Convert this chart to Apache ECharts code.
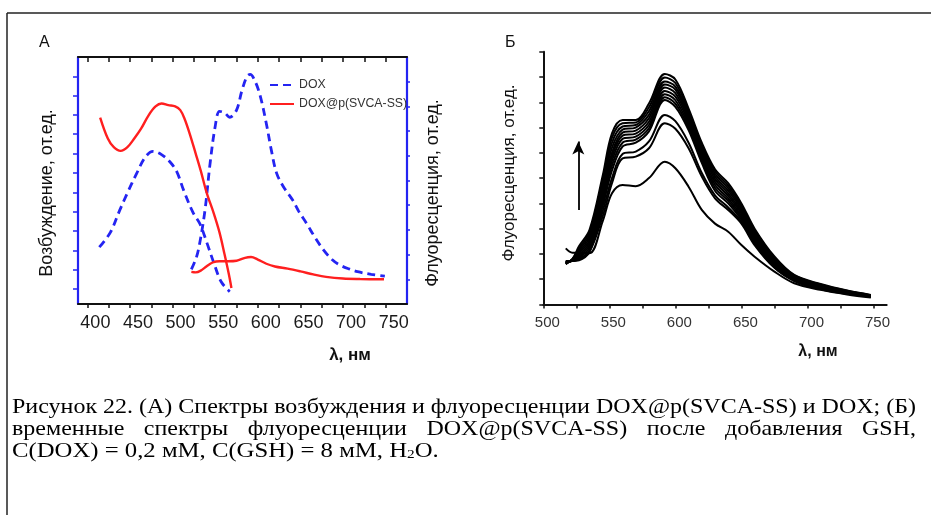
<!DOCTYPE html>
<html>
<head>
<meta charset="utf-8">
<script src="https://cdn.jsdelivr.net/npm/echarts@6/dist/echarts.min.js"></script>
<style>
  html, body { margin: 0; padding: 0; background: #fff; }
  #chart { width: 931px; height: 515px; }
</style>
</head>
<body>
<div id="chart"></div>
<script>
// ---- panel A: excitation (left part) and fluorescence (right part), [nm, rel. units]
const doxExcitation = [[414, 23], [427, 29], [438, 38], [447, 45], [458, 53], [468, 59.5], [477, 61.8],
  [487, 60.5], [497, 57.5], [505, 53.5], [513, 46], [524, 37], [532, 32.5], [540, 25], [548, 17],
  [557, 9], [567, 5]];
const doxEmission = [[522, 14], [528, 19], [532, 25], [538, 38], [544, 57], [550, 72], [555, 78],
  [561, 77.4], [567, 75.6], [575, 78.5], [581, 86], [587, 92], [591, 93], [597, 90], [603, 84],
  [610, 73], [616, 62], [622, 53], [630, 47.5], [641, 42], [648, 37.5], [657, 32.7], [667, 27],
  [677, 21.9], [687, 18], [696, 15.8], [707, 14.2], [717, 13.1], [733, 12], [749, 11.3]];
const doxpExcitation = [[415, 75.5], [424, 67], [431, 63.5], [439, 62], [447, 63.5], [455, 67],
  [463, 71], [472, 76.5], [480, 80], [487, 81.2], [495, 80.5], [503, 80], [509, 78.5], [514, 75],
  [520, 69], [527, 61], [533, 54], [540, 45], [548, 37], [555, 29], [561, 20], [566, 12], [569, 6.5]];
const doxpEmission = [[522, 13], [527, 12.8], [533, 13.5], [540, 15.3], [547, 16.8], [555, 17.3],
  [565, 17.3], [575, 17.5], [585, 18.7], [592, 19], [600, 18], [610, 16.3], [620, 15.2], [635, 14.3],
  [650, 13.2], [665, 12], [680, 11], [700, 10.3], [720, 10.1], [748, 10]];
const tickLabelsA = [400, 450, 500, 550, 600, 650, 700, 750];

// ---- panel Б: fluorescence spectra recorded over time after GSH addition
const wavelengthsB = [517, 522, 527, 535, 545, 552, 560, 570, 580, 592, 600, 610, 620, 630, 640, 650, 660, 675, 690, 710, 730, 748];
const spec01 = [2.22, 2.05, 2.05, 2.03, 3.3, 4.4, 4.73, 4.68, 5.0, 5.65, 5.39, 4.66, 3.74, 3.2, 2.88, 2.35, 1.89, 1.3, 0.84, 0.58, 0.4, 0.28];
const spec02 = [1.72, 1.72, 1.75, 2.08, 3.5, 4.8, 5.78, 5.85, 6.18, 7.17, 6.95, 6.18, 5.06, 4.2, 3.74, 3.2, 2.35, 1.45, 0.93, 0.6, 0.42, 0.31];
const spec03 = [1.7, 1.72, 1.78, 2.1, 3.7, 5.0, 5.95, 6.05, 6.45, 7.5, 7.25, 6.4, 5.2, 4.32, 3.84, 3.27, 2.4, 1.47, 0.95, 0.62, 0.43, 0.31];
const spec04 = [1.68, 1.72, 1.8, 2.15, 3.9, 5.3, 6.25, 6.4, 6.85, 8.09, 7.82, 6.9, 5.6, 4.5, 4.0, 3.35, 2.45, 1.5, 0.97, 0.64, 0.44, 0.32];
const spec05 = [1.67, 1.73, 1.85, 2.25, 4.05, 5.5, 6.4, 6.52, 6.97, 8.2, 7.95, 7.0, 5.7, 4.62, 4.1, 3.43, 2.52, 1.55, 1.0, 0.66, 0.46, 0.33];
const spec06 = [1.66, 1.74, 1.9, 2.35, 4.2, 5.68, 6.55, 6.64, 7.1, 8.32, 8.08, 7.1, 5.8, 4.74, 4.2, 3.51, 2.59, 1.6, 1.03, 0.68, 0.47, 0.34];
const spec07 = [1.65, 1.75, 1.95, 2.45, 4.35, 5.85, 6.68, 6.76, 7.23, 8.45, 8.22, 7.21, 5.9, 4.85, 4.3, 3.6, 2.66, 1.65, 1.06, 0.7, 0.48, 0.35];
const spec08 = [1.64, 1.76, 2.02, 2.55, 4.5, 6.0, 6.8, 6.88, 7.37, 8.58, 8.36, 7.32, 6.0, 4.96, 4.4, 3.68, 2.73, 1.7, 1.09, 0.72, 0.5, 0.35];
const spec09 = [1.63, 1.77, 2.08, 2.65, 4.65, 6.2, 6.92, 7.0, 7.5, 8.7, 8.5, 7.43, 6.1, 5.07, 4.5, 3.76, 2.8, 1.75, 1.11, 0.74, 0.51, 0.36];
const spec10 = [1.62, 1.78, 2.15, 2.75, 4.8, 6.4, 7.04, 7.1, 7.65, 8.82, 8.62, 7.54, 6.2, 5.17, 4.6, 3.84, 2.87, 1.8, 1.13, 0.76, 0.52, 0.36];
const spec11 = [1.61, 1.79, 2.22, 2.85, 4.95, 6.6, 7.17, 7.2, 7.8, 8.98, 8.76, 7.65, 6.3, 5.27, 4.7, 3.92, 2.94, 1.85, 1.15, 0.79, 0.54, 0.37];
const spec12 = [1.6, 1.8, 2.3, 2.95, 5.1, 6.77, 7.3, 7.3, 7.95, 9.12, 8.9, 7.75, 6.4, 5.35, 4.8, 4.0, 3.0, 1.9, 1.17, 0.81, 0.55, 0.38];
const spectraB = [spec01, spec02, spec03, spec04, spec05, spec06, spec07, spec08, spec09, spec10, spec11, spec12];
const arrowB = [[526.5, 3.74], [526.5, 6.45]];
const tickLabelsB = [500, 550, 600, 650, 700, 750];

const caption1 = 'Рисунок 22. (А) Спектры возбуждения и флуоресценции DOX@p(SVCA-SS) и DOX; (Б)';
const caption2 = 'временные спектры флуоресценции DOX@p(SVCA-SS) после добавления GSH,';
const caption3 = 'C(DOX) = 0,2 мМ, C(GSH) = 8 мМ, H{s|2}O.';

const BLUE = '#2424f2';
const RED = '#ff1f1f';
const SANS = '"Liberation Sans", Arial, sans-serif';
const SERIF = '"Liberation Serif", "Times New Roman", serif';

function steps(from, to, step) {
  const out = [];
  for (let v = from; v <= to; v += step) out.push(v);
  return out;
}

// caption: text in the picture is horizontally squeezed and justified
const ctx = document.createElement('canvas').getContext('2d');
const capFont = '21px ' + SERIF;
ctx.font = capFont;
const capLeft = 12, capRight = 916;
const squeeze = (capRight - capLeft) / ctx.measureText(caption1).width;

const captionEls = [];
captionEls.push({
  type: 'text', x: capLeft, y: 407, scaleX: squeeze,
  style: { text: caption1, font: capFont, fill: '#000', align: 'left', verticalAlign: 'middle' }
});
const words2 = caption2.split(' ');
const widths2 = words2.map(w => ctx.measureText(w).width * squeeze);
const gap2 = (capRight - capLeft - widths2.reduce((a, b) => a + b, 0)) / (words2.length - 1);
let wx = capLeft;
words2.forEach((w, i) => {
  captionEls.push({
    type: 'text', x: wx, y: 429, scaleX: squeeze,
    style: { text: w, font: capFont, fill: '#000', align: 'left', verticalAlign: 'middle' }
  });
  wx += widths2[i] + gap2;
});
captionEls.push({
  type: 'text', x: capLeft, y: 451, scaleX: squeeze * 1.03,
  style: {
    text: caption3, font: capFont, fill: '#000', align: 'left', verticalAlign: 'middle',
    rich: { s: { fontSize: 13, fontFamily: SERIF, verticalAlign: 'bottom', padding: [6, 0, 0, 0] } }
  }
});

const chart = echarts.init(document.getElementById('chart'), null, { renderer: 'canvas' });

const lineA = (name, data, color, dashed, yIdx) => ({
  name: name,
  type: 'line',
  xAxisIndex: 0,
  yAxisIndex: yIdx,
  data: data,
  smooth: 0.35,
  symbol: 'none',
  silent: true,
  itemStyle: { color: color },
  lineStyle: { color: color, width: dashed ? 2.8 : 2.4, type: dashed ? [8, 5] : 'solid' }
});

const seriesB = spectraB.map((vals, i) => {
  const s = {
    name: 'B' + (i + 1),
    type: 'line',
    xAxisIndex: 2,
    yAxisIndex: 2,
    data: wavelengthsB.map((w, k) => [w, vals[k]]),
    smooth: 0.35,
    symbol: 'none',
    silent: true,
    lineStyle: { color: '#000', width: 2 },
    itemStyle: { color: '#000' }
  };
  if (i === spectraB.length - 1) {
    s.markLine = {
      silent: true,
      animation: false,
      symbol: ['none', 'arrow'],
      symbolSize: [9, 13],
      label: { show: false },
      lineStyle: { color: '#000', width: 1.8, type: 'solid' },
      data: [[{ coord: arrowB[0] }, { coord: arrowB[1] }]]
    };
  }
  return s;
});

const option = {
  animation: false,
  backgroundColor: '#fff',
  textStyle: { fontFamily: SANS },
  grid: [
    { left: 78, top: 57, width: 329, height: 247, outerBoundsMode: 'none' },
    { left: 543.3, top: 51.7, width: 343.4, height: 252.8, outerBoundsMode: 'none' }
  ],
  legend: {
    data: ['DOX', 'DOX@p(SVCA-SS)'],
    orient: 'vertical',
    left: 264,
    top: 74,
    itemWidth: 24,
    itemHeight: 14,
    itemGap: 7,
    selectedMode: false,
    itemStyle: { opacity: 0 },
    textStyle: { fontSize: 12.3, color: '#333', fontFamily: SANS }
  },
  xAxis: [
    {
      gridIndex: 0, type: 'value', position: 'bottom', min: 389, max: 775,
      axisLine: { onZero: false, lineStyle: { color: '#111', width: 2 } },
      axisTick: { customValues: steps(400, 750, 25), length: 4, lineStyle: { color: '#111', width: 1.5 } },
      axisLabel: { customValues: tickLabelsA, fontSize: 18, color: '#1a1a1a', margin: 10, padding: [0, 0, 0, 16] },
      splitLine: { show: false }
    },
    {
      gridIndex: 0, type: 'value', position: 'top', min: 389, max: 775,
      axisLine: { onZero: false, lineStyle: { color: '#111', width: 2 } },
      axisTick: { customValues: steps(400, 750, 25), inside: true, length: 5, lineStyle: { color: '#111', width: 1.5 } },
      axisLabel: { show: false },
      splitLine: { show: false }
    },
    {
      gridIndex: 1, type: 'value', position: 'bottom', min: 500, max: 760,
      axisLine: { onZero: false, lineStyle: { color: '#111', width: 2 } },
      axisTick: { customValues: steps(500, 750, 25), length: 4, lineStyle: { color: '#111', width: 1.5 } },
      axisLabel: { customValues: tickLabelsB, fontSize: 15, color: '#333', margin: 11, padding: [0, 0, 0, 8] },
      splitLine: { show: false }
    }
  ],
  yAxis: [
    {
      gridIndex: 0, type: 'value', position: 'left', min: 0, max: 100,
      axisLine: { show: true, onZero: false, lineStyle: { color: BLUE, width: 2.2 } },
      axisTick: {
        show: true, length: 5, lineStyle: { color: BLUE, width: 1.5 },
        customValues: [6, 13.8, 21.6, 29.5, 37.3, 45.1, 53, 60.9, 68.8, 76.5, 84.2, 92]
      },
      axisLabel: { show: false },
      splitLine: { show: false }
    },
    {
      gridIndex: 0, type: 'value', position: 'right', min: 0, max: 100, interval: 10,
      axisLine: { show: true, onZero: false, lineStyle: { color: BLUE, width: 2.2 } },
      axisTick: { show: true, length: 3, customValues: steps(10, 90, 10), lineStyle: { color: BLUE, width: 1.5 } },
      axisLabel: { show: false },
      splitLine: { show: false }
    },
    {
      gridIndex: 1, type: 'value', position: 'left', min: 0, max: 10, interval: 1,
      axisLine: { show: true, onZero: false, lineStyle: { color: '#111', width: 2 } },
      axisTick: { show: true, length: 4, lineStyle: { color: '#111', width: 1.5 } },
      axisLabel: { show: false },
      splitLine: { show: false }
    }
  ],
  series: [
    lineA('DOX', doxExcitation, BLUE, true, 0),
    lineA('DOX', doxEmission, BLUE, true, 1),
    lineA('DOX@p(SVCA-SS)', doxpExcitation, RED, false, 0),
    lineA('DOX@p(SVCA-SS)', doxpEmission, RED, false, 1)
  ].concat(seriesB),
  graphic: [
    // figure frame
    { type: 'line', shape: { x1: 7, y1: 13, x2: 931, y2: 13 }, style: { stroke: '#222', lineWidth: 1.5 }, silent: true },
    { type: 'line', shape: { x1: 7, y1: 13, x2: 7, y2: 515 }, style: { stroke: '#222', lineWidth: 1.5 }, silent: true },
    // panel letters
    { type: 'text', x: 39, y: 43, style: { text: 'A', font: '16px ' + SANS, fill: '#111', verticalAlign: 'middle' } },
    { type: 'text', x: 505, y: 43, style: { text: 'Б', font: '16px ' + SANS, fill: '#111', verticalAlign: 'middle' } },
    // axis names
    { type: 'text', x: 47, y: 193, rotation: Math.PI / 2,
      style: { text: 'Возбуждение, от.ед.', font: '18px ' + SANS, fill: '#111', align: 'center', verticalAlign: 'middle' } },
    { type: 'text', x: 433, y: 193, rotation: Math.PI / 2,
      style: { text: 'Флуоресценция, от.ед.', font: '18px ' + SANS, fill: '#111', align: 'center', verticalAlign: 'middle' } },
    { type: 'text', x: 350, y: 355,
      style: { text: 'λ, нм', font: 'bold 17px ' + SANS, fill: '#111', align: 'center', verticalAlign: 'middle' } },
    { type: 'text', x: 509, y: 173, rotation: Math.PI / 2,
      style: { text: 'Флуоресценция, от.ед.', font: '17px ' + SANS, fill: '#111', align: 'center', verticalAlign: 'middle' } },
    { type: 'text', x: 818, y: 352,
      style: { text: 'λ, нм', font: 'bold 16px ' + SANS, fill: '#111', align: 'center', verticalAlign: 'middle' } }
  ].concat(captionEls)
};

chart.setOption(option);
</script>
</body>
</html>
